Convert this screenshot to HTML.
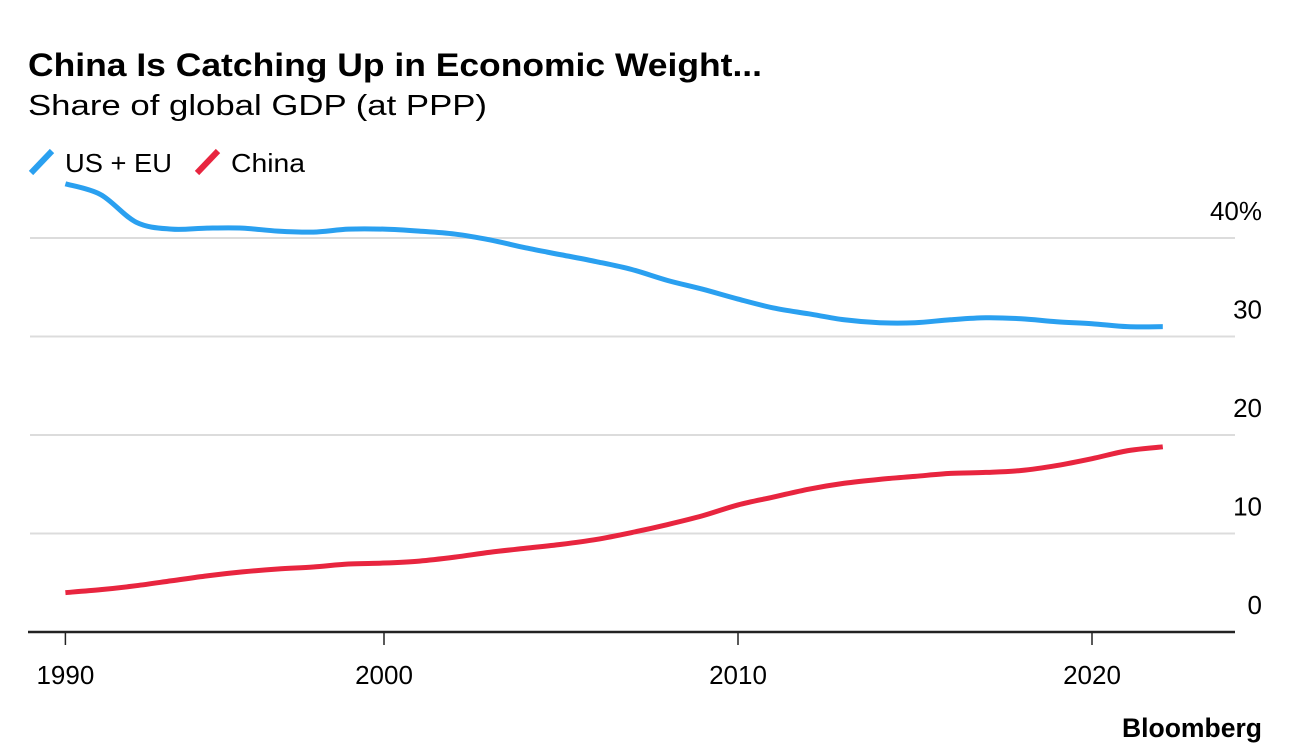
<!DOCTYPE html>
<html><head><meta charset="utf-8"><style>
body{margin:0;background:#fff;width:1289px;height:754px;overflow:hidden;font-family:"Liberation Sans",sans-serif}
svg{display:block}
</style></head><body>
<svg id="chart" width="1289" height="754" font-family="Liberation Sans, sans-serif">
<text x="28" y="76" font-size="32" font-weight="bold" fill="#000" textLength="734" lengthAdjust="spacingAndGlyphs">China Is Catching Up in Economic Weight...</text>
<text x="28" y="115" font-size="29" fill="#000" textLength="459" lengthAdjust="spacingAndGlyphs">Share of global GDP (at PPP)</text>
<g>
<g><line x1="31" y1="173" x2="52" y2="151" stroke="#2aa0f0" stroke-width="6" stroke-linecap="butt"/><text x="65" y="172" font-size="26" textLength="107" lengthAdjust="spacingAndGlyphs">US + EU</text></g>
<g><line x1="197" y1="173" x2="218" y2="151" stroke="#e8253f" stroke-width="6"/><text x="231" y="172" font-size="26" textLength="74" lengthAdjust="spacingAndGlyphs">China</text></g>
</g>
<g id="grid"></g>
<g id="series"></g>
<g id="xaxis"></g>
<text x="1122" y="737" font-size="27" font-weight="bold" textLength="140" lengthAdjust="spacingAndGlyphs">Bloomberg</text>
</svg>
<script>
const years=[1991,1992,1993,1994,1995,1996,1997,1998,1999,2000,2001,2002,2003,2004,2005,2006,2007,2008,2009,2010,2011,2012,2013,2014,2015,2016,2017,2018,2019,2020,2021,2022];
const usEu=[45.5,44.4,41.6,40.9,41.0,41.0,40.7,40.6,40.9,40.9,40.7,40.4,39.8,39.0,38.3,37.6,36.8,35.7,34.8,33.8,32.9,32.3,31.7,31.4,31.4,31.7,31.9,31.8,31.5,31.3,31.0,31.0];
const china=[4.0,4.3,4.7,5.2,5.7,6.1,6.4,6.6,6.9,7.0,7.2,7.6,8.1,8.5,8.9,9.4,10.1,10.9,11.8,12.9,13.7,14.5,15.1,15.5,15.8,16.1,16.2,16.4,16.9,17.6,18.4,18.8];
const yTicks=[0,10,20,30,40];
const yTickLabels=['0','10','20','30','40%'];
const xTicks=[1991,2000,2010,2020];
const xTickLabels=['1990','2000','2010','2020'];

const NS='http://www.w3.org/2000/svg';
const x=v=>384+(v-2000)*35.4;
const y=v=>632-v*9.85;
function mk(tag,attrs,parent){const e=document.createElementNS(NS,tag);for(const k in attrs)e.setAttribute(k,attrs[k]);parent.appendChild(e);return e;}
const grid=document.getElementById('grid'),series=document.getElementById('series'),xa=document.getElementById('xaxis');
yTicks.forEach((t,i)=>{
  if(t>0){const l=mk('line',{x1:30,x2:1235,y1:y(t),y2:y(t),stroke:'#dcdcdc','stroke-width':2},grid);
  
  }
  const tx=mk('text',{x:1262,y:y(t)-18,'text-anchor':'end','font-size':26,fill:'#000'},grid);
  tx.textContent=yTickLabels[i];
  
  
});
function path(vals){
  const p=vals.map((v,i)=>[x(years[i]),y(v)]);
  let d='M'+p[0][0]+','+p[0][1];
  for(let i=0;i<p.length-1;i++){
    const p0=p[i-1]||p[i],p1=p[i],p2=p[i+1],p3=p[i+2]||p2;
    const c1=[p1[0]+(p2[0]-p0[0])/6,p1[1]+(p2[1]-p0[1])/6];
    const c2=[p2[0]-(p3[0]-p1[0])/6,p2[1]-(p3[1]-p1[1])/6];
    d+=` C${c1[0]},${c1[1]} ${c2[0]},${c2[1]} ${p2[0]},${p2[1]}`;
  }
  return d;
}
const l1=mk('path',{d:path(usEu),fill:'none',stroke:'#2aa0f0','stroke-width':5,'stroke-linejoin':'round'},series);


const l2=mk('path',{d:path(china),fill:'none',stroke:'#e8253f','stroke-width':5,'stroke-linejoin':'round'},series);


const ax=mk('line',{x1:28,x2:1235,y1:632,y2:632,stroke:'#222','stroke-width':2.5},xa);


xTicks.forEach((t,i)=>{
  const tk=mk('line',{x1:x(t),x2:x(t),y1:632,y2:645,stroke:'#222','stroke-width':1.5},xa);
  
  
  const tx=mk('text',{x:x(t),y:684,'text-anchor':'middle','font-size':26,fill:'#000'},xa);
  tx.textContent=xTickLabels[i];
  
  
});
</script>
</body></html>
